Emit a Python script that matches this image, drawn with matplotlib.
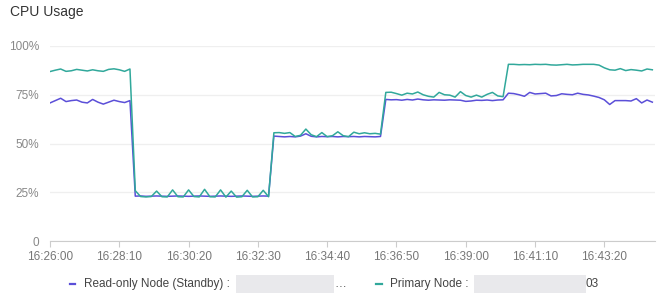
import matplotlib
matplotlib.use("Agg")
import matplotlib.pyplot as plt
from matplotlib.lines import Line2D
from matplotlib.patches import Rectangle
import numpy as np

plt.rcParams['font.family'] = ['Liberation Sans', 'DejaVu Sans']

# seconds since 16:26:00, one sample every 10 s
t = np.arange(0, 1140, 10)

standby = [
    # 16:26:00 - 16:28:30
    70.8, 72.0, 73.2, 71.5, 72.0, 72.3, 71.2, 70.8, 72.6, 71.2, 70.2, 71.2, 72.2, 71.5, 71.0, 72.0,
    # low phase
    23.0, 23.1, 22.9, 23.0, 23.1, 23.0, 22.9, 23.0, 23.1, 23.0, 22.9, 23.0, 23.1, 23.0,
    22.9, 23.0, 23.1, 23.0, 22.9, 23.0, 23.1, 23.0, 22.9, 23.0, 23.1, 23.0,
    # mid phase
    53.8, 53.6, 53.4, 53.6, 53.4, 53.8, 55.0, 53.7, 53.4, 53.6, 53.5, 53.6, 53.4, 53.6,
    53.5, 53.6, 53.4, 53.6, 53.5, 53.4, 53.6,
    # high phase
    72.6, 72.4, 72.5, 72.2, 72.6, 72.3, 72.8, 72.4, 72.2, 72.4, 72.3, 72.2, 72.4, 72.3,
    72.2, 71.6, 71.8, 72.2, 72.1, 72.3, 72.0, 72.3, 72.4,
    # top phase
    75.8, 75.6, 75.0, 74.2, 76.2, 75.4, 75.6, 75.8, 74.4, 74.6, 75.5, 75.2, 75.0, 75.8,
    75.2, 74.9, 74.3, 73.6, 72.4, 70.0, 72.0, 72.0, 72.0, 71.8, 73.0, 70.8, 72.3, 71.2,
]

primary = [
    86.9, 87.6, 88.2, 87.0, 87.3, 88.0, 87.6, 87.2, 87.8, 87.3, 87.0, 88.0, 88.3, 87.8, 87.0, 88.2,
    25.8, 22.8, 22.6, 22.8, 25.6, 22.7, 22.6, 26.2, 22.7, 22.6, 26.2, 22.8, 22.6, 26.5,
    22.7, 22.6, 26.2, 22.5, 25.6, 22.5, 22.7, 26.0, 22.6, 22.7, 26.0, 22.7,
    55.5, 55.6, 55.2, 55.6, 53.6, 54.2, 57.4, 54.5, 53.5, 55.6, 53.5, 54.0, 56.0, 54.0,
    53.5, 55.8, 55.0, 55.5, 55.0, 55.2, 54.8,
    76.2, 76.3, 75.6, 74.8, 75.8, 75.4, 76.4, 75.0, 74.2, 73.8, 76.2, 75.0, 74.8, 73.8,
    76.6, 74.6, 73.8, 74.8, 73.8, 75.2, 76.2, 74.4, 74.0,
    90.6, 90.6, 90.4, 90.5, 90.4, 90.6, 90.5, 90.6, 90.3, 90.2, 90.4, 90.6, 90.3, 90.4,
    90.6, 90.6, 90.6, 90.2, 88.8, 87.8, 87.6, 88.4, 87.4, 87.9, 87.6, 87.2, 88.2, 87.8,
]

tick_pos = [0, 130, 260, 390, 520, 650, 780, 910, 1040]
tick_labels = ["16:26:00", "16:28:10", "16:30:20", "16:32:30", "16:34:40",
               "16:36:50", "16:39:00", "16:41:10", "16:43:20"]
y_ticks = [0, 25, 50, 75, 100]
y_labels = ["0", "25%", "50%", "75%", "100%"]

c_standby = "#5b4fd8"
c_primary = "#31a89b"

fig = plt.figure(figsize=(6.68, 3.0), dpi=100)
ax = fig.add_axes([50 / 668, 1 - 241 / 300, 605 / 668, 195 / 300])

ax.plot(t, standby, color=c_standby, lw=1.1, zorder=3)
ax.plot(t, primary, color=c_primary, lw=1.1, zorder=3)

ax.set_xlim(0, 1135)
ax.set_ylim(0, 100)
ax.set_yticks(y_ticks)
ax.set_yticklabels(y_labels)
ax.set_xticks(tick_pos)
ax.set_xticklabels(tick_labels)
ax.grid(axis='y', color='#efefef', lw=0.9)
ax.set_axisbelow(True)
for s in ['top', 'right', 'left']:
    ax.spines[s].set_visible(False)
ax.spines['bottom'].set_color('#cccccc')
ax.tick_params(axis='y', length=0, pad=8, labelsize=8.5, labelcolor='#888888')
ax.tick_params(axis='x', length=4, color='#cccccc', pad=3, labelsize=8.5, labelcolor='#777777')

fig.text(10 / 668, 1 - 12 / 300, "CPU Usage", fontsize=10, color='#333333', va='center', ha='left')

# legend, laid out by hand
ly = 1 - 284 / 300
fig.add_artist(Line2D([70 / 668, 75 / 668], [ly, ly], color=c_standby, lw=1.6))
fig.text(84 / 668, ly, "Read-only Node (Standby) :", fontsize=8.5, color='#444444', va='center')
fig.add_artist(Rectangle((236 / 668, ly - 9 / 300), 98 / 668, 18 / 300, color='#e9e9ec', lw=0))
fig.text(334 / 668, ly, "…", fontsize=8.5, color='#444444', va='center')
fig.add_artist(Line2D([376 / 668, 382 / 668], [ly, ly], color=c_primary, lw=1.6))
fig.text(390 / 668, ly, "Primary Node :", fontsize=8.5, color='#444444', va='center')
fig.add_artist(Rectangle((474 / 668, ly - 9 / 300), 112 / 668, 18 / 300, color='#e9e9ec', lw=0))
fig.text(586 / 668, ly, "03", fontsize=8.5, color='#444444', va='center')

fig.savefig("out.png", dpi=100)
